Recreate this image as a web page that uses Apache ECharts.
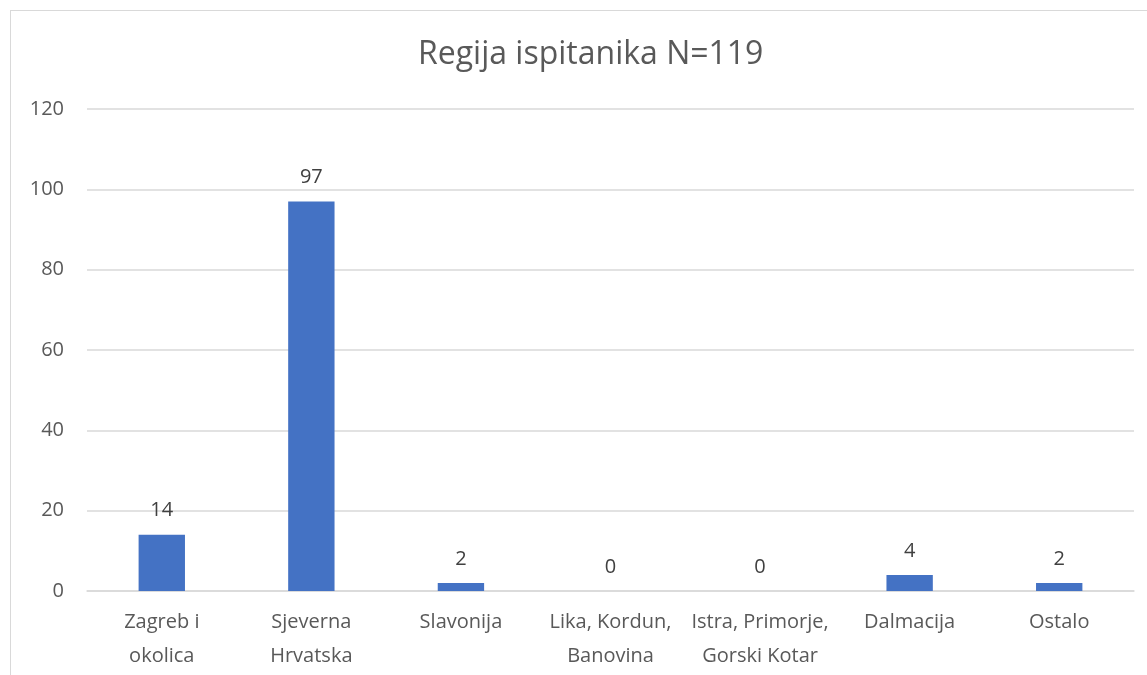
<!DOCTYPE html>
<html>
<head>
<meta charset="utf-8">
<script src="https://cdn.jsdelivr.net/npm/echarts@6/dist/echarts.min.js"></script>
<style>
  html, body { margin: 0; padding: 0; background: #fff; }
  #frame { position: absolute; left: 10px; top: 10px; width: 1140px; height: 700px; border: 1px solid #d9d9d9; box-sizing: border-box; }
  #main { position: absolute; left: 0; top: 0; width: 1147px; height: 675px; }
</style>
</head>
<body>
<div id="frame"></div>
<div id="main"></div>
<script>
var titleText = 'Regija ispitanika N=119';
var regije = ['Zagreb i\nokolica', 'Sjeverna\nHrvatska', 'Slavonija', 'Lika, Kordun,\nBanovina', 'Istra, Primorje,\nGorski Kotar', 'Dalmacija', 'Ostalo'];
var brojIspitanika = [14, 97, 2, 0, 0, 4, 2];
var yTicks = [0, 20, 40, 60, 80, 100, 120];

var font = '"Open Sans", sans-serif';
var myChart = echarts.init(document.getElementById('main'));
myChart.setOption({
  animation: false,
  title: {
    text: titleText,
    left: 413,
    top: 34,
    textStyle: { fontFamily: font, fontSize: 32, fontWeight: 'normal', color: '#595959' }
  },
  grid: { left: 87, right: 13, top: 109, bottom: 84 },
  xAxis: {
    type: 'category',
    data: regije,
    axisLine: { lineStyle: { color: '#d9d9d9', width: 1.5 } },
    axisTick: { show: false },
    axisLabel: { fontFamily: font, fontSize: 20, color: '#595959', lineHeight: 34, margin: 14, interval: 0 }
  },
  yAxis: {
    type: 'value',
    min: yTicks[0],
    max: yTicks[yTicks.length - 1],
    interval: 20,
    axisLine: { show: false },
    axisTick: { show: false },
    splitLine: { lineStyle: { color: '#d9d9d9', width: 1.5 } },
    axisLabel: { fontFamily: font, fontSize: 20, color: '#595959', margin: 23 }
  },
  series: [{
    type: 'bar',
    data: brojIspitanika,
    barWidth: '31%',
    itemStyle: { color: '#4472c4' },
    label: { show: true, position: 'top', distance: 14, fontFamily: font, fontSize: 20, color: '#404040' }
  }]
});
</script>
</body>
</html>
